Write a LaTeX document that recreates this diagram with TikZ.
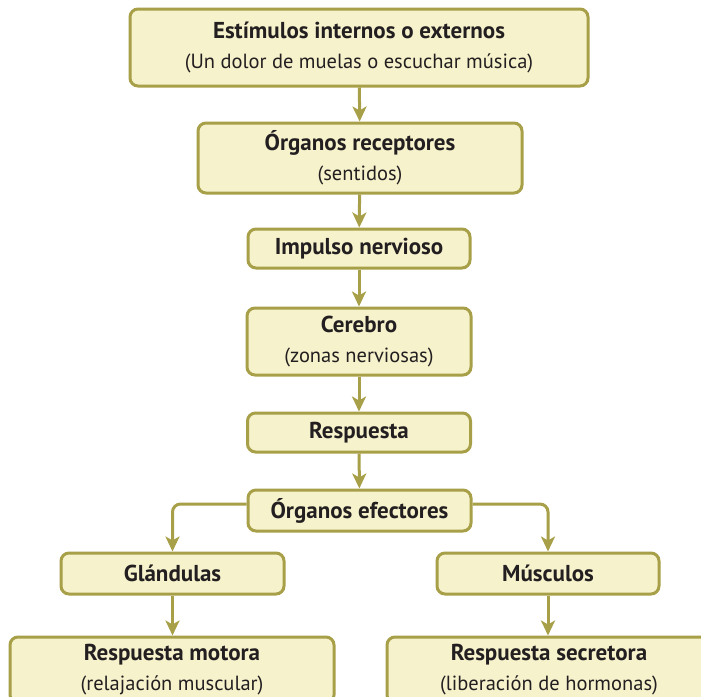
\documentclass[tikz,border=0pt]{standalone}
\usepackage{fontspec}
\setmainfont{PT Sans}
\usetikzlibrary{arrows.meta}
\definecolor{boxfill}{RGB}{246,242,204}
\definecolor{boxline}{RGB}{168,160,72}
\definecolor{ink}{RGB}{35,31,32}
\tikzset{
  stage/.style={draw=boxline, fill=boxfill, line width=3pt, rounded corners=8pt,
    inner sep=0pt, align=center, text=ink,
    font=\fontsize{20.5}{30}\selectfont},
  flow/.style={draw=boxline, line width=3pt,
    -{Stealth[length=15pt,width=14pt,inset=4pt]}},
}
\newcommand{\hd}[1]{{\fontsize{23}{30}\selectfont\bfseries #1}}
\begin{document}
\begin{tikzpicture}[x=1pt,y=-1pt]
  \clip (0,0) rectangle (701,696);
  \fill[white] (0,0) rectangle (701,696);

  \node[stage, minimum width=458pt, minimum height=77pt] (est) at (359,47.5)
    {\hd{Estímulos internos o externos}\\(Un dolor de muelas o escuchar música)};
  \node[stage, minimum width=324pt, minimum height=70pt] (rec) at (360,158)
    {\hd{Órganos receptores}\\(sentidos)};
  \node[stage, minimum width=222pt, minimum height=39pt] (imp) at (359,248.5)
    {\hd{Impulso nervioso}};
  \node[stage, minimum width=224pt, minimum height=67pt] (cer) at (359,341.5)
    {\hd{Cerebro}\\(zonas nerviosas)};
  \node[stage, minimum width=223pt, minimum height=39pt] (res) at (359,432.5)
    {\hd{Respuesta}};
  \node[stage, minimum width=223pt, minimum height=41pt] (efe) at (359.5,510.5)
    {\hd{Órganos efectores}};
  \node[stage, minimum width=223pt, minimum height=41pt] (gla) at (172.5,573.5)
    {\hd{Glándulas}};
  \node[stage, minimum width=222pt, minimum height=41pt] (mus) at (548,573.5)
    {\hd{Músculos}};
  \node[stage, minimum width=324pt, minimum height=66pt] (mot) at (172,670)
    {\hd{Respuesta motora}\\(relajación muscular)};
  \node[stage, minimum width=324pt, minimum height=66pt] (sec) at (549,670)
    {\hd{Respuesta secretora}\\(liberación de hormonas)};

  \draw[flow] (est) -- (rec);
  \draw[flow] (rec) -- (imp);
  \draw[flow] (imp) -- (cer);
  \draw[flow] (cer) -- (res);
  \draw[flow] (res) -- (efe);
  \draw[flow, rounded corners=8pt] ([yshift=6.5pt]efe.west) -| (gla.north);
  \draw[flow, rounded corners=8pt] ([yshift=6.5pt]efe.east) -| (mus.north);
  \draw[flow] (gla) -- (gla |- mot.north);
  \draw[flow] (mus) -- (mus |- sec.north);
\end{tikzpicture}
\end{document}
